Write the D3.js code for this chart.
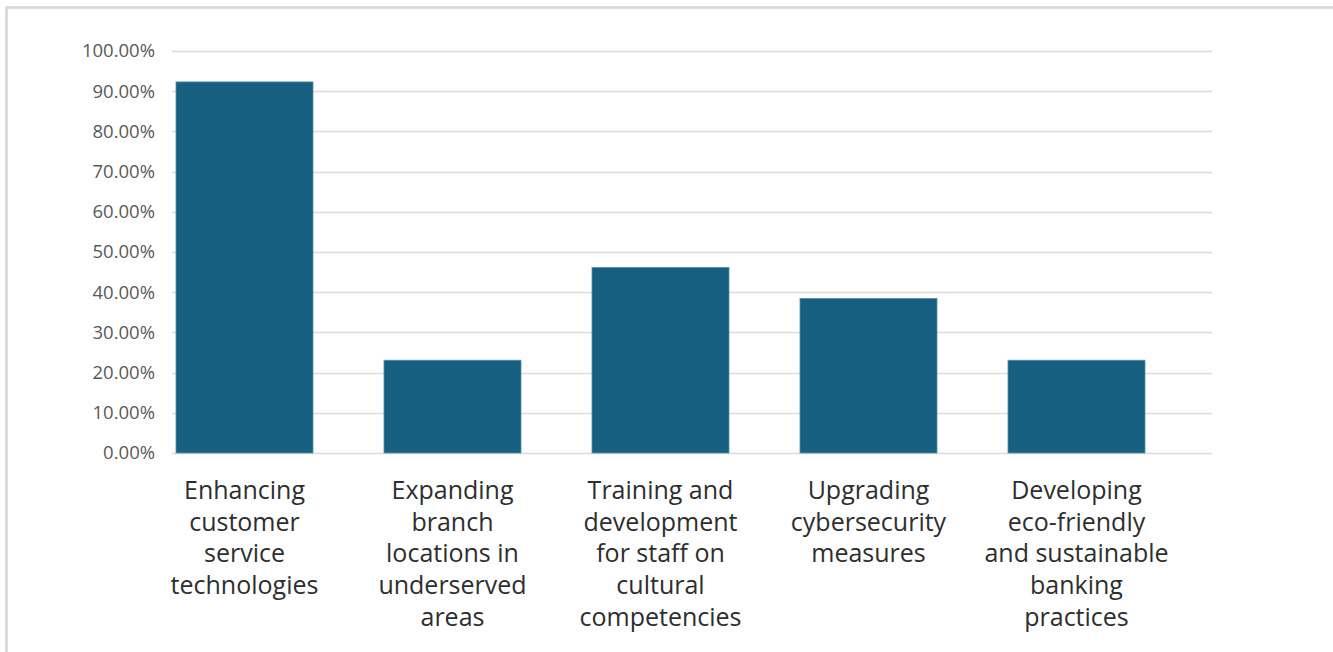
<!DOCTYPE html>
<html>
<head>
<meta charset="utf-8">
<script src="https://cdn.jsdelivr.net/npm/d3@7"></script>
<style>
  html, body { margin: 0; padding: 0; background: #fff; }
  svg { display: block; }
</style>
</head>
<body>
<svg id="chart" width="1333" height="652"></svg>
<script>
// Share of respondents prioritising each investment area
const categories = [
  "Enhancing customer service technologies",
  "Expanding branch locations in underserved areas",
  "Training and development for staff on cultural competencies",
  "Upgrading cybersecurity measures",
  "Developing eco-friendly and sustainable banking practices"
];
const labelLines = [
  ["Enhancing", "customer", "service", "technologies"],
  ["Expanding", "branch", "locations in", "underserved", "areas"],
  ["Training and", "development", "for staff on", "cultural", "competencies"],
  ["Upgrading", "cybersecurity", "measures"],
  ["Developing", "eco-friendly", "and sustainable", "banking", "practices"]
];
const values = [0.9231, 0.2308, 0.4615, 0.3846, 0.2308];
const yTicks = [0, 0.1, 0.2, 0.3, 0.4, 0.5, 0.6, 0.7, 0.8, 0.9, 1.0];

const svg = d3.select("#chart");

// outer frame
svg.append("rect")
  .attr("x", 6.5).attr("y", 7.5)
  .attr("width", 1400).attr("height", 700)
  .attr("fill", "none")
  .attr("stroke", "#d6d6d6")
  .attr("stroke-width", 2.5);

const y = d3.scaleLinear().domain([0, 1]).range([453, 51]);
const x = d3.scaleBand()
  .domain(categories)
  .range([140.5, 1180.5])
  .paddingInner(0.3413)
  .paddingOuter(0.3413 / 2);

const gridX0 = 172, gridX1 = 1212;

// gridlines
svg.append("g")
  .selectAll("line")
  .data(yTicks)
  .join("line")
  .attr("x1", gridX0).attr("x2", gridX1)
  .attr("y1", d => Math.round(y(d)) + 0.5)
  .attr("y2", d => Math.round(y(d)) + 0.5)
  .attr("stroke", "#dcdcdc")
  .attr("stroke-width", 1.3);

// y axis labels
const yAxis = d3.axisLeft(y)
  .tickValues(yTicks)
  .tickFormat(d3.format(".2%"))
  .tickSize(0)
  .tickPadding(0);
const gy = svg.append("g")
  .attr("transform", "translate(155,0)")
  .call(yAxis);
gy.select(".domain").remove();
gy.selectAll("text")
  .attr("font-family", "'Open Sans', sans-serif")
  .attr("font-size", 18.5)
  .attr("fill", "#595959");

// bars
svg.append("g")
  .selectAll("rect")
  .data(values)
  .join("rect")
  .attr("x", (d, i) => x(categories[i]))
  .attr("width", x.bandwidth())
  .attr("y", d => y(d))
  .attr("height", d => y(0) - y(d))
  .attr("fill", "#175f80")
  .attr("stroke", "#5b8fa9")
  .attr("stroke-width", 0.8);

// category labels
const lab = svg.append("g")
  .selectAll("text")
  .data(labelLines)
  .join("text")
  .attr("text-anchor", "middle")
  .attr("font-family", "'Open Sans', sans-serif")
  .attr("font-size", 25)
  .attr("fill", "#2e2e2e")
  .attr("x", (d, i) => x(categories[i]) + x.bandwidth() / 2)
  .attr("y", 499);
lab.selectAll("tspan")
  .data((d, i) => d.map(s => ({ s, i })))
  .join("tspan")
  .attr("x", d => x(categories[d.i]) + x.bandwidth() / 2)
  .attr("dy", (d, j) => j === 0 ? 0 : 31.7)
  .text(d => d.s);
</script>
</body>
</html>
